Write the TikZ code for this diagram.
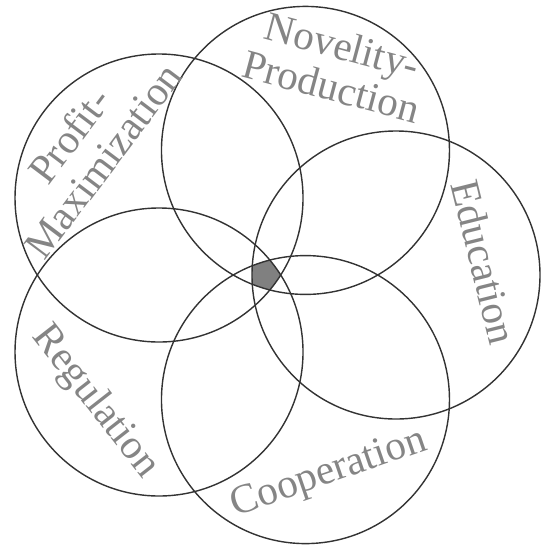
\documentclass[tikz,border=0pt]{standalone}
\usepackage{fontspec}
\setmainfont{Liberation Serif}
\usepackage{tikz}

\begin{document}
\begin{tikzpicture}[x=0.02cm, y=-0.02cm,
  ring/.style={draw=black!80, line width=0.8pt},
  lab/.style={text=black!48, font=\fontsize{23.5}{24}\selectfont, align=center, inner sep=0pt}]

\useasboundingbox (0,0) rectangle (542,549);

% Centre of the flower
\coordinate (mid) at (265,275);

% Ring centres, one every 72 degrees
\foreach \name/\ang in {edu/0, nov/72, pro/144, reg/216, coo/288} {
  \coordinate (\name) at ([shift={(\ang:131)}]mid);
}

% Shared core of all five rings
\begin{scope}
  \clip (edu) circle (144);
  \clip (nov) circle (144);
  \clip (pro) circle (144);
  \clip (reg) circle (144);
  \clip (coo) circle (144);
  \fill[black!50] (mid) circle (30);
\end{scope}

% Rings
\foreach \name in {edu, nov, pro, reg, coo} {
  \draw[ring] (\name) circle (144);
}

% Labels
\node[lab, rotate=-15] (novlab) at (337,66) {Novelity-\\Production};
\node[lab, rotate=53] (prolab) at (86,148) {Profit-\\Maximization};
\node[lab, rotate=-76] (edulab) at (484,262) {Education};
\node[lab, rotate=-52] (reglab) at (95,402) {Regulation};
\node[lab, rotate=19] (coolab) at (329,474) {Cooperation};

\end{tikzpicture}
\end{document}
